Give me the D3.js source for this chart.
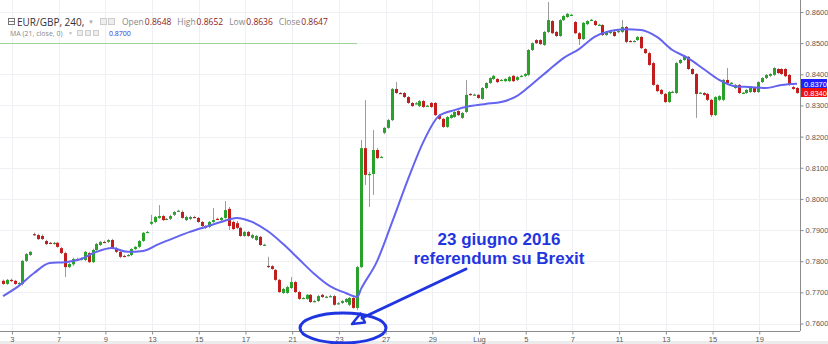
<!DOCTYPE html>
<html><head><meta charset="utf-8">
<script src="https://cdn.jsdelivr.net/npm/d3@7/dist/d3.min.js"></script>
<style>html,body{margin:0;padding:0;background:#fff;overflow:hidden}svg{display:block}</style>
</head><body>
<svg id="chart" width="828" height="344"></svg>
<script>
// ---- DATA (EUR/GBP, 4h candles, 2 Jun - 20 Jul 2016) ----
const opens = [
.7737,.7727,.7740,.7737,.7728,.7727,.7801,.7820,.7887,.7884,
.7881,.7865,.7859,.7857,.7859,.7842,.7826,.7781,.7790,.7807,
.7806,.7804,.7826,.7797,.7836,.7852,.7862,.7862,.7868,.7842,
.7830,.7817,.7818,.7820,.7839,.7846,.7865,.7893,.7920,.7926,
.7939,.7945,.7935,.7936,.7949,.7961,.7958,.7932,.7936,.7942,
.7939,.7926,.7913,.7910,.7926,.7936,.7932,.7939,.7968,.7926,
.7922,.7907,.7881,.7894,.7875,.7868,.7878,.7852,.7785,.7784,
.7772,.7740,.7698,.7698,.7714,.7733,.7701,.7681,.7679,.7692,
.7671,.7672,.7692,.7685,.7687,.7688,.7664,.7666,.7669,.7660,
.7682,.7650,.7781,.8163,.8077,.8080,.8157,.8134,.8212,.8228,
.8253,.8353,.8340,.8340,.8327,.8308,.8306,.8298,.8314,.8298,
.8308,.8308,.8269,.8257,.8231,.8260,.8263,.8282,.8260,.8279,
.8337,.8334,.8334,.8321,.8356,.8372,.8385,.8385,.8381,.8378,
.8378,.8395,.8382,.8394,.8395,.8398,.8478,.8510,.8510,.8494,
.8536,.8571,.8536,.8523,.8574,.8584,.8590,.8568,.8532,.8513,
.8561,.8574,.8571,.8558,.8558,.8526,.8533,.8536,.8536,.8536,
.8552,.8507,.8506,.8510,.8520,.8481,.8468,.8436,.8366,.8350,
.8337,.8311,.8343,.8340,.8436,.8446,.8456,.8417,.8401,.8340,
.8340,.8337,.8318,.8269,.8318,.8318,.8382,.8372,.8356,.8366,
.8340,.8340,.8343,.8356,.8343,.8375,.8388,.8395,.8398,.8417,
.8417,.8417,.8398,.8359,.8356];
const highs = [
.7741,.7743,.7744,.7740,.7733,.7804,.7826,.7833,.7892,.7888,
.7886,.7869,.7862,.7862,.7862,.7846,.7830,.7795,.7811,.7811,
.7812,.7833,.7830,.7840,.7859,.7865,.7866,.7871,.7872,.7846,
.7833,.7821,.7823,.7842,.7849,.7868,.7894,.7897,.7949,.7945,
.7980,.7949,.7939,.7949,.7961,.7965,.7963,.7946,.7946,.7946,
.7942,.7929,.7916,.7929,.7971,.7940,.7942,.7993,.7974,.7930,
.7929,.7910,.7897,.7897,.7888,.7884,.7881,.7856,.7814,.7788,
.7775,.7743,.7714,.7721,.7749,.7737,.7705,.7685,.7695,.7695,
.7676,.7692,.7695,.7689,.7692,.7692,.7669,.7676,.7682,.7685,
.7686,.7785,.8189,.8317,.8087,.8221,.8163,.8138,.8231,.8257,
.8356,.8375,.8343,.8343,.8330,.8311,.8311,.8318,.8318,.8302,
.8311,.8311,.8273,.8260,.8266,.8273,.8282,.8285,.8279,.8382,
.8340,.8338,.8337,.8359,.8375,.8391,.8398,.8388,.8385,.8388,
.8395,.8398,.8395,.8398,.8404,.8481,.8503,.8513,.8513,.8539,
.8632,.8574,.8539,.8577,.8590,.8597,.8594,.8571,.8536,.8568,
.8574,.8578,.8574,.8562,.8561,.8539,.8539,.8539,.8542,.8574,
.8555,.8510,.8510,.8523,.8523,.8484,.8472,.8440,.8369,.8353,
.8340,.8346,.8347,.8440,.8449,.8462,.8459,.8420,.8404,.8343,
.8343,.8340,.8321,.8330,.8333,.8385,.8420,.8375,.8369,.8369,
.8343,.8353,.8359,.8359,.8378,.8391,.8401,.8404,.8423,.8420,
.8420,.8420,.8401,.8363,.8359];
const lows = [
.7724,.7724,.7733,.7724,.7725,.7722,.7797,.7817,.7882,.7868,
.7868,.7852,.7855,.7853,.7843,.7823,.7749,.7778,.7785,.7803,
.7802,.7800,.7794,.7794,.7833,.7849,.7858,.7858,.7839,.7826,
.7810,.7813,.7815,.7816,.7836,.7842,.7862,.7890,.7916,.7922,
.7936,.7929,.7932,.7932,.7945,.7958,.7936,.7929,.7932,.7938,
.7923,.7910,.7903,.7906,.7923,.7932,.7929,.7936,.7900,.7900,
.7903,.7878,.7878,.7878,.7871,.7865,.7849,.7849,.7778,.7772,
.7737,.7698,.7695,.7695,.7711,.7698,.7676,.7678,.7676,.7666,
.7668,.7669,.7682,.7682,.7684,.7657,.7661,.7663,.7666,.7656,
.7647,.7643,.7778,.8045,.7974,.8013,.8128,.8131,.8208,.8225,
.8250,.8337,.8337,.8324,.8305,.8295,.8303,.8295,.8292,.8295,
.8292,.8266,.8253,.8228,.8228,.8257,.8260,.8266,.8257,.8276,
.8331,.8331,.8321,.8318,.8353,.8369,.8382,.8372,.8378,.8375,
.8375,.8375,.8378,.8391,.8391,.8394,.8475,.8497,.8494,.8491,
.8532,.8529,.8520,.8520,.8571,.8581,.8587,.8529,.8494,.8510,
.8558,.8571,.8555,.8555,.8523,.8523,.8529,.8520,.8532,.8532,
.8500,.8504,.8503,.8507,.8481,.8465,.8427,.8363,.8343,.8334,
.8308,.8308,.8340,.8337,.8433,.8443,.8414,.8398,.8260,.8337,
.8331,.8314,.8263,.8266,.8314,.8314,.8369,.8369,.8353,.8337,
.8337,.8337,.8340,.8340,.8340,.8372,.8385,.8391,.8394,.8401,
.8398,.8391,.8363,.8350,.8337];
const closes = [
.7727,.7740,.7737,.7727,.7730,.7801,.7823,.7830,.7884,.7871,
.7871,.7855,.7857,.7859,.7846,.7826,.7781,.7791,.7807,.7806,
.7808,.7830,.7797,.7836,.7855,.7862,.7861,.7868,.7842,.7830,
.7814,.7816,.7820,.7839,.7846,.7865,.7891,.7894,.7926,.7942,
.7945,.7932,.7936,.7945,.7958,.7962,.7939,.7942,.7942,.7941,
.7926,.7913,.7907,.7926,.7932,.7935,.7939,.7964,.7913,.7903,
.7907,.7881,.7894,.7881,.7884,.7881,.7852,.7853,.7782,.7775,
.7740,.7701,.7711,.7717,.7733,.7701,.7679,.7682,.7692,.7669,
.7672,.7688,.7685,.7686,.7688,.7660,.7665,.7672,.7679,.7682,
.7650,.7781,.8163,.8077,.8080,.8157,.8131,.8135,.8228,.8253,
.8353,.8340,.8339,.8327,.8308,.8298,.8307,.8314,.8295,.8299,
.8295,.8269,.8257,.8231,.8263,.8269,.8279,.8269,.8276,.8334,
.8334,.8335,.8324,.8356,.8372,.8388,.8395,.8375,.8382,.8385,
.8391,.8378,.8391,.8395,.8401,.8478,.8500,.8500,.8497,.8536,
.8574,.8532,.8523,.8574,.8587,.8594,.8591,.8532,.8513,.8565,
.8571,.8575,.8558,.8559,.8526,.8536,.8536,.8523,.8539,.8552,
.8504,.8506,.8507,.8520,.8484,.8468,.8430,.8366,.8346,.8337,
.8311,.8343,.8344,.8436,.8446,.8459,.8417,.8401,.8337,.8341,
.8334,.8318,.8269,.8327,.8330,.8382,.8372,.8373,.8366,.8340,
.8341,.8350,.8356,.8343,.8375,.8388,.8398,.8401,.8420,.8404,
.8401,.8394,.8366,.8353,.8340];
// MA(21, close) at candle indices
const maIndex = [0,4,8,12,16,20,24,28,32,36,40,44,48,52,56,60,64,68,72,76,80,84,88,91,
 92,96,100,104,108,112,116,120,124,128,132,136,140,144,148,152,156,160,164,168,172,176,180,184,188,192,196,200,204];
const maValues = [.7688,.7720,.7762,.7794,.7797,.7807,.7830,.7842,.7830,.7833,.7855,.7875,.7894,.7910,.7926,.7939,.7926,.7897,.7855,.7807,.7759,.7720,.7698,.7685,
 .7711,.7797,.7926,.8061,.8183,.8266,.8285,.8298,.8305,.8311,.8330,.8369,.8411,.8452,.8481,.8520,.8539,.8545,.8542,.8520,.8478,.8452,.8417,.8382,.8362,.8359,.8356,.8366,.8370];
const priceTicks = [0.76,0.77,0.78,0.79,0.80,0.81,0.82,0.83,0.84,0.85,0.86];
const dayLabels = ["3","7","9","13","15","17","21","23","27","29","Lug","5","7","11","13","15","19"];
const legendSymbol = "EUR/GBP, 240,";
const legendOHLC = [["Open","0.8648"],["High","0.8652"],["Low","0.8636"],["Close","0.8647"]];
const maLegend = "MA (21, close, 0)";
const maLegendValue = "0.8700";
const noteLines = ["23 giugno 2016","referendum su Brexit"];

// ---- LAYOUT ----
const W = 828, H = 344, plotRight = 800, plotBottom = 331;
const candlesPerDay = 6, firstTickIndex = 2.3;
const svg = d3.select("#chart");
const x = d3.scaleLinear().domain([0, opens.length - 1]).range([3, 797]);
const y = d3.scaleLinear().domain([0.76, 0.86]).range([323.5, 12]);
const fmt = d3.format(".4f");
const UP = "#2aa12a", DOWN = "#c21d1d";

// bottom strip
svg.append("rect").attr("x",0).attr("y",341).attr("width",W).attr("height",3).attr("fill","#ececec");

const tickIdx = dayLabels.map((d,i)=> firstTickIndex + candlesPerDay*2*i);

// grid
const grid = svg.append("g");
grid.selectAll("line.h").data(priceTicks).join("line")
  .attr("x1",0).attr("x2",plotRight).attr("y1",d=>Math.round(y(d))+0.5).attr("y2",d=>Math.round(y(d))+0.5)
  .attr("stroke","#eef0f3");
grid.selectAll("line.v").data(tickIdx).join("line")
  .attr("x1",d=>Math.round(x(d))+0.5).attr("x2",d=>Math.round(x(d))+0.5).attr("y1",0).attr("y2",plotBottom)
  .attr("stroke","#eef0f3");

// clip
svg.append("clipPath").attr("id","clip").append("rect").attr("x",0).attr("y",0).attr("width",plotRight).attr("height",plotBottom);
const plot = svg.append("g").attr("clip-path","url(#clip)");

// candles
const idx = d3.range(opens.length);
plot.selectAll("line.wick").data(idx).join("line")
  .attr("x1",i=>Math.round(x(i))+0.5).attr("x2",i=>Math.round(x(i))+0.5)
  .attr("y1",i=>y(highs[i])).attr("y2",i=>y(lows[i]))
  .attr("stroke","#9c9c9c").attr("stroke-width",1);
plot.selectAll("rect.body").data(idx).join("rect")
  .attr("x",i=>Math.round(x(i))-1).attr("width",3)
  .attr("y",i=>y(Math.max(opens[i],closes[i])))
  .attr("height",i=>Math.max(1.2, Math.abs(y(opens[i])-y(closes[i]))))
  .attr("fill",i=>closes[i]>=opens[i]?UP:DOWN);

// MA line
const maLine = d3.line().x(d=>x(d[0])).y(d=>y(d[1])).curve(d3.curveMonotoneX);
plot.append("path").datum(maIndex.map((d,i)=>[d,maValues[i]]))
  .attr("d",maLine).attr("fill","none").attr("stroke","#6464f0").attr("stroke-width",2);

// axes
const yAxis = d3.axisRight(y).tickValues(priceTicks).tickFormat(fmt).tickSize(3).tickPadding(2);
const gy = svg.append("g").attr("transform",`translate(${plotRight+0.5},0)`).call(yAxis);
gy.select(".domain").attr("stroke","#8c8c8c").attr("d",`M0,0V${plotBottom}`);
gy.selectAll(".tick line").attr("stroke","#8c8c8c");
gy.selectAll("text").attr("fill","#5a5a5a").style("font","7.5px 'Liberation Sans', Arial, sans-serif");

const xAxis = d3.axisBottom(x).tickValues(tickIdx).tickFormat((d,i)=>dayLabels[i]).tickSize(3).tickPadding(2);
const gx = svg.append("g").attr("transform",`translate(0,${plotBottom+0.5})`).call(xAxis);
gx.select(".domain").attr("stroke","#8c8c8c").attr("d",`M0,0H${plotRight}`);
gx.selectAll(".tick line").attr("stroke","#8c8c8c");
gx.selectAll("text").attr("fill","#5a5a5a").style("font","7.5px 'Liberation Sans', Arial, sans-serif");

// last value labels
const lastMA = maValues[maValues.length-1], lastClose = closes[closes.length-1];
const tags = [{v:lastMA, c:"#1f1fff", yc:83.5},{v:lastClose, c:"#f01010", yc:92.5}];
tags.forEach(t=>{
  svg.append("rect").attr("x",plotRight+1).attr("y",t.yc-4.5).attr("width",26).attr("height",9).attr("fill",t.c);
  svg.append("text").attr("x",plotRight+4).attr("y",t.yc+3).attr("fill","#fff")
    .style("font","7.5px 'Liberation Sans', Arial, sans-serif").text(fmt(t.v));
});

// legend
const lg = svg.append("g").style("font-family","'Open Sans', 'Liberation Sans', sans-serif");
lg.append("rect").attr("x",8.5).attr("y",18.5).attr("width",6).attr("height",6).attr("fill","none").attr("stroke","#777");
lg.append("line").attr("x1",9).attr("x2",14).attr("y1",21.5).attr("y2",21.5).attr("stroke","#777");
lg.append("text").attr("x",17).attr("y",25.5).attr("fill","#333").style("font-size","10px").text(legendSymbol);
lg.append("text").attr("x",88).attr("y",24).attr("fill","#aaa").style("font-size","6px").text("▼");
[100,108].forEach(px=>lg.append("rect").attr("x",px+0.5).attr("y",18.5).attr("width",6).attr("height",6).attr("fill","#eee").attr("stroke","#ccc"));
let lx = 122;
legendOHLC.forEach(([k,v])=>{
  const t = lg.append("text").attr("x",lx).attr("y",25).style("font-size","8.5px");
  t.append("tspan").attr("fill","#888").text(k);
  t.append("tspan").attr("fill","#8a2222").attr("dx",1).text(v);
  lx += t.node().getComputedTextLength() + 7;
});
lg.append("text").attr("x",10).attr("y",35.5).attr("fill","#888").style("font-size","7px").text(maLegend);
lg.append("text").attr("x",68).attr("y",35).attr("fill","#bbb").style("font-size","5px").text("▼");
[77,85,93].forEach(px=>lg.append("rect").attr("x",px+0.5).attr("y",30.5).attr("width",5).attr("height",5).attr("fill","#eee").attr("stroke","#ccc"));
lg.append("text").attr("x",109).attr("y",35.5).attr("fill","#3535e0").style("font-size","7px").text(maLegendValue);
svg.append("line").attr("x1",0).attr("x2",357).attr("y1",43.5).attr("y2",43.5).attr("stroke","#9bd49b").attr("stroke-width",1);

// annotation
const BLUE = "#1f35e0";
const ann = svg.append("g");
ann.selectAll("text").data(noteLines).join("text")
  .attr("x",499).attr("y",(d,i)=>245+i*19).attr("text-anchor","middle")
  .attr("fill",BLUE).style("font","bold 17px 'Liberation Sans', Arial, sans-serif").text(d=>d);
ann.append("line").attr("x1",466).attr("y1",269).attr("x2",362).attr("y2",318)
  .attr("stroke",BLUE).attr("stroke-width",3).attr("stroke-linecap","round");
ann.append("path").attr("d","M352,324 L360.5,313.5 L365,322.5 Z").attr("fill","none")
  .attr("stroke",BLUE).attr("stroke-width",2.5).attr("stroke-linejoin","round");
ann.append("ellipse").attr("cx",343).attr("cy",328).attr("rx",43).attr("ry",15)
  .attr("fill","none").attr("stroke",BLUE).attr("stroke-width",3);
</script>
</body></html>
